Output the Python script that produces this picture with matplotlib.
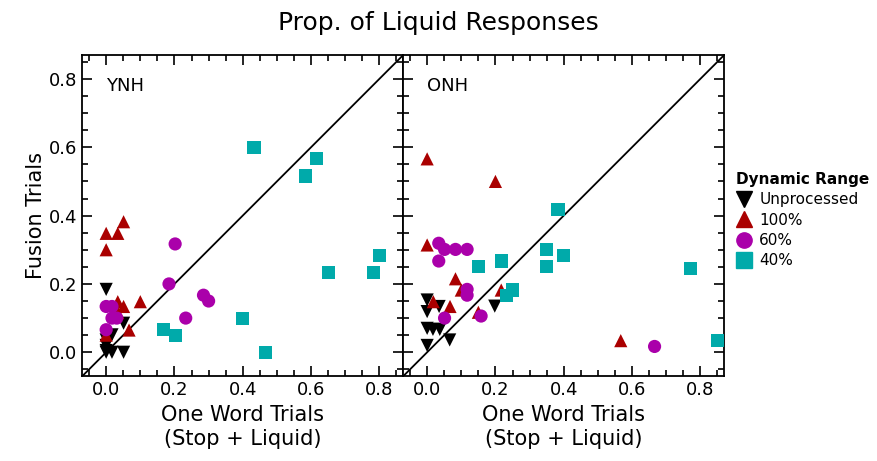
import matplotlib
matplotlib.use("Agg")
import matplotlib.pyplot as plt
from matplotlib.ticker import MultipleLocator
from matplotlib.lines import Line2D

##	Data

# YNH panel
ynh_unproc_x = [0.0, 0.051, 0.017, 0.0, 0.0, 0.0, 0.017, 0.051, 0.0]
ynh_unproc_y = [0.184, 0.085, 0.051, 0.036, 0.020, 0.005, 0.0, 0.0, 0.0]
ynh_100_x = [0.051, 0.0, 0.034, 0.0, 0.034, 0.051, 0.1, 0.034, 0.067, 0.0]
ynh_100_y = [0.382, 0.348, 0.348, 0.300, 0.148, 0.134, 0.148, 0.116, 0.065, 0.05]
ynh_60_x = [0.202, 0.184, 0.285, 0.300, 0.233, 0.0, 0.017, 0.017, 0.031, 0.0]
ynh_60_y = [0.317, 0.200, 0.167, 0.150, 0.100, 0.134, 0.134, 0.100, 0.100, 0.066]
ynh_40_x = [0.433, 0.617, 0.584, 0.800, 0.650, 0.782, 0.400, 0.168, 0.202, 0.467]
ynh_40_y = [0.600, 0.566, 0.516, 0.283, 0.233, 0.233, 0.100, 0.066, 0.049, 0.0]

# ONH panel
onh_unproc_x = [0.0, 0.0, 0.035, 0.198, 0.0, 0.017, 0.037, 0.066, 0.0]
onh_unproc_y = [0.153, 0.119, 0.134, 0.135, 0.070, 0.067, 0.067, 0.036, 0.020]
onh_100_x = [0.0, 0.2, 0.0, 0.083, 0.1, 0.217, 0.067, 0.15, 0.018, 0.567]
onh_100_y = [0.566, 0.50, 0.314, 0.215, 0.182, 0.182, 0.134, 0.117, 0.148, 0.034]
onh_60_x = [0.034, 0.051, 0.083, 0.117, 0.034, 0.117, 0.117, 0.051, 0.158, 0.666]
onh_60_y = [0.319, 0.301, 0.301, 0.301, 0.267, 0.184, 0.167, 0.100, 0.106, 0.017]
onh_40_x = [0.383, 0.350, 0.400, 0.217, 0.150, 0.350, 0.771, 0.250, 0.233, 0.851]
onh_40_y = [0.417, 0.301, 0.284, 0.267, 0.251, 0.251, 0.246, 0.182, 0.167, 0.034]

group_names = ["Unprocessed", "100%", "60%", "40%"]
group_markers = ["v", "^", "o", "s"]
group_colors = ["black", "#aa0000", "#aa00aa", "#00aaaa"]

panel_names = ["YNH", "ONH"]
panel_data = [
    [(ynh_unproc_x, ynh_unproc_y), (ynh_100_x, ynh_100_y), (ynh_60_x, ynh_60_y), (ynh_40_x, ynh_40_y)],
    [(onh_unproc_x, onh_unproc_y), (onh_100_x, onh_100_y), (onh_60_x, onh_60_y), (onh_40_x, onh_40_y)],
]

lo, hi = -0.07, 0.87

fig = plt.figure(figsize=(8.77, 4.61), dpi=100)
ax_l = fig.add_axes([0.0938, 0.184, 0.366, 0.6967])
ax_r = fig.add_axes([0.4598, 0.184, 0.366, 0.6967])

for k, ax in enumerate([ax_l, ax_r]):
    ax.plot([lo, hi], [lo, hi], color="black", lw=1.3, zorder=1)
    for (xs, ys), m, c in zip(panel_data[k], group_markers, group_colors):
        ax.scatter(xs, ys, marker=m, s=90, color=c, edgecolors="none", zorder=3)
    ax.set_xlim(lo, hi)
    ax.set_ylim(lo, hi)
    ax.xaxis.set_major_locator(MultipleLocator(0.2))
    ax.xaxis.set_minor_locator(MultipleLocator(0.05))
    ax.yaxis.set_major_locator(MultipleLocator(0.2))
    ax.yaxis.set_minor_locator(MultipleLocator(0.05))
    ax.tick_params(which="both", direction="in", top=True, right=True, width=1.2, labelsize=13)
    ax.tick_params(which="major", length=7)
    ax.tick_params(which="minor", length=4)
    for sp in ax.spines.values():
        sp.set_linewidth(1.3)
    ax.set_xlabel("One Word Trials\n(Stop + Liquid)", fontsize=15, linespacing=1.3)
    ax.text(0.0, 0.78, panel_names[k], fontsize=13, va="center", ha="left")

ax_r.tick_params(labelleft=False)
ax_l.set_ylabel("Fusion Trials", fontsize=15, labelpad=2)

fig.text(0.5, 0.95, "Prop. of Liquid Responses", ha="center", va="center", fontsize=18)

handles = [Line2D([], [], marker=m, color=c, ls="none", markersize=11)
           for m, c in zip(group_markers, group_colors)]
leg = fig.legend(handles, group_names, loc="upper left", bbox_to_anchor=(0.838, 0.63),
                 frameon=False, fontsize=11, title="Dynamic Range",
                 handletextpad=0.5, labelspacing=0.35, borderpad=0.1, handlelength=1.0,
                 borderaxespad=0.0)
leg.get_title().set_fontweight("bold")
leg.get_title().set_fontsize(11)
leg._legend_box.align = "left"

plt.savefig("out.png", dpi=100)
plt.close()
